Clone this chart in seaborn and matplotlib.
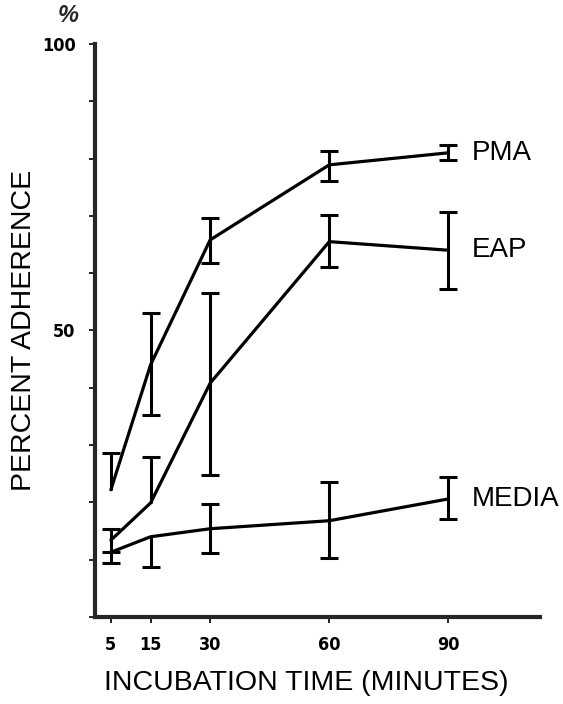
import numpy as np
import pandas as pd
import matplotlib
matplotlib.use("Agg")
import matplotlib.pyplot as plt
from matplotlib.font_manager import FontProperties
import seaborn as sns

# ---- data ----
minutes = [5, 15, 30, 60, 90]
pma = [22.2, 44.0, 65.8, 78.9, 81.0]
pma_lo = [0.0, 8.8, 4.0, 2.8, 1.2]
pma_hi = [6.4, 9.0, 3.8, 2.4, 1.4]
eap = [13.4, 19.9, 40.8, 65.5, 64.0]
eap_lo = [2.0, 0.0, 16.0, 4.4, 6.8]
eap_hi = [2.0, 8.0, 15.7, 4.7, 6.7]
media = [11.3, 14.0, 15.4, 16.8, 20.6]
media_lo = [1.9, 5.3, 4.2, 6.5, 3.5]
media_hi = [0.0, 0.0, 4.3, 6.8, 3.8]
series_names = ["PMA", "EAP", "MEDIA"]
y_ticklabels = {100: "100", 50: "50"}

sns.set_style("ticks")
plt.rcParams["font.family"] = ["Liberation Sans", "DejaVu Sans"]

fig = plt.figure(figsize=(5.63, 7.04), dpi=100)
ax = fig.add_axes([0.1687, 0.1236, 0.79, 0.814])

df = pd.DataFrame({
    "minutes": minutes * 3,
    "value": pma + eap + media,
    "group": [s for s in series_names for _ in minutes],
})
sns.lineplot(data=df, x="minutes", y="value", hue="group", units="group",
             estimator=None, palette=["black"] * 3, linewidth=2.3,
             legend=False, ax=ax)

series = [(pma, pma_lo, pma_hi), (eap, eap_lo, eap_hi), (media, media_lo, media_hi)]
x = np.array(minutes, dtype=float)
for vals, lo, hi in series:
    v = np.array(vals); lo = np.array(lo); hi = np.array(hi)
    lows = v - lo
    highs = v + hi
    ax.vlines(x, lows, highs, color="black", linewidth=2.2)
    cap_hi = np.where(hi > 0, highs, np.nan)
    cap_lo = np.where(lo > 0, lows, np.nan)
    ax.plot(x, cap_hi, linestyle="none", marker="_", markersize=13,
            markeredgewidth=2.2, color="black")
    ax.plot(x, cap_lo, linestyle="none", marker="_", markersize=13,
            markeredgewidth=2.2, color="black")

# series labels at right
for name, vals in zip(series_names, [pma, eap, media]):
    ax.text(x[-1] + 6, vals[-1], name, fontsize=20, va="center", ha="left",
            color="black")

ax.set_xlim(1, 113)
ax.set_ylim(0, 100)
ax.set_xticks(minutes)
ax.set_yticks(range(0, 101, 10))
ax.set_yticklabels([y_ticklabels.get(t, "") for t in range(0, 101, 10)])
tick_fp = FontProperties(family=["DejaVu Sans"], weight="bold", size=13,
                         stretch="condensed")
for lab in ax.get_xticklabels() + ax.get_yticklabels():
    lab.set_fontproperties(tick_fp)
ax.tick_params(axis="both", direction="out", length=4, width=1.2, color="black",
               labelcolor="black", pad=10)

sns.despine(ax=ax)
ax.spines["left"].set_linewidth(3)
ax.spines["bottom"].set_linewidth(3)

ax.set_xlabel("INCUBATION TIME (MINUTES)", fontsize=20.5, color="black",
              va="center")
ax.xaxis.set_label_coords(0.475, -0.115)
ax.set_ylabel("PERCENT ADHERENCE", fontsize=20.5, color="black", va="center")
ax.yaxis.set_label_coords(-0.16, 0.5)
ax.text(-0.06, 1.05, "%", transform=ax.transAxes, fontsize=17, style="italic",
        weight="bold", ha="center", va="center")

fig.savefig("out.png", dpi=100)
